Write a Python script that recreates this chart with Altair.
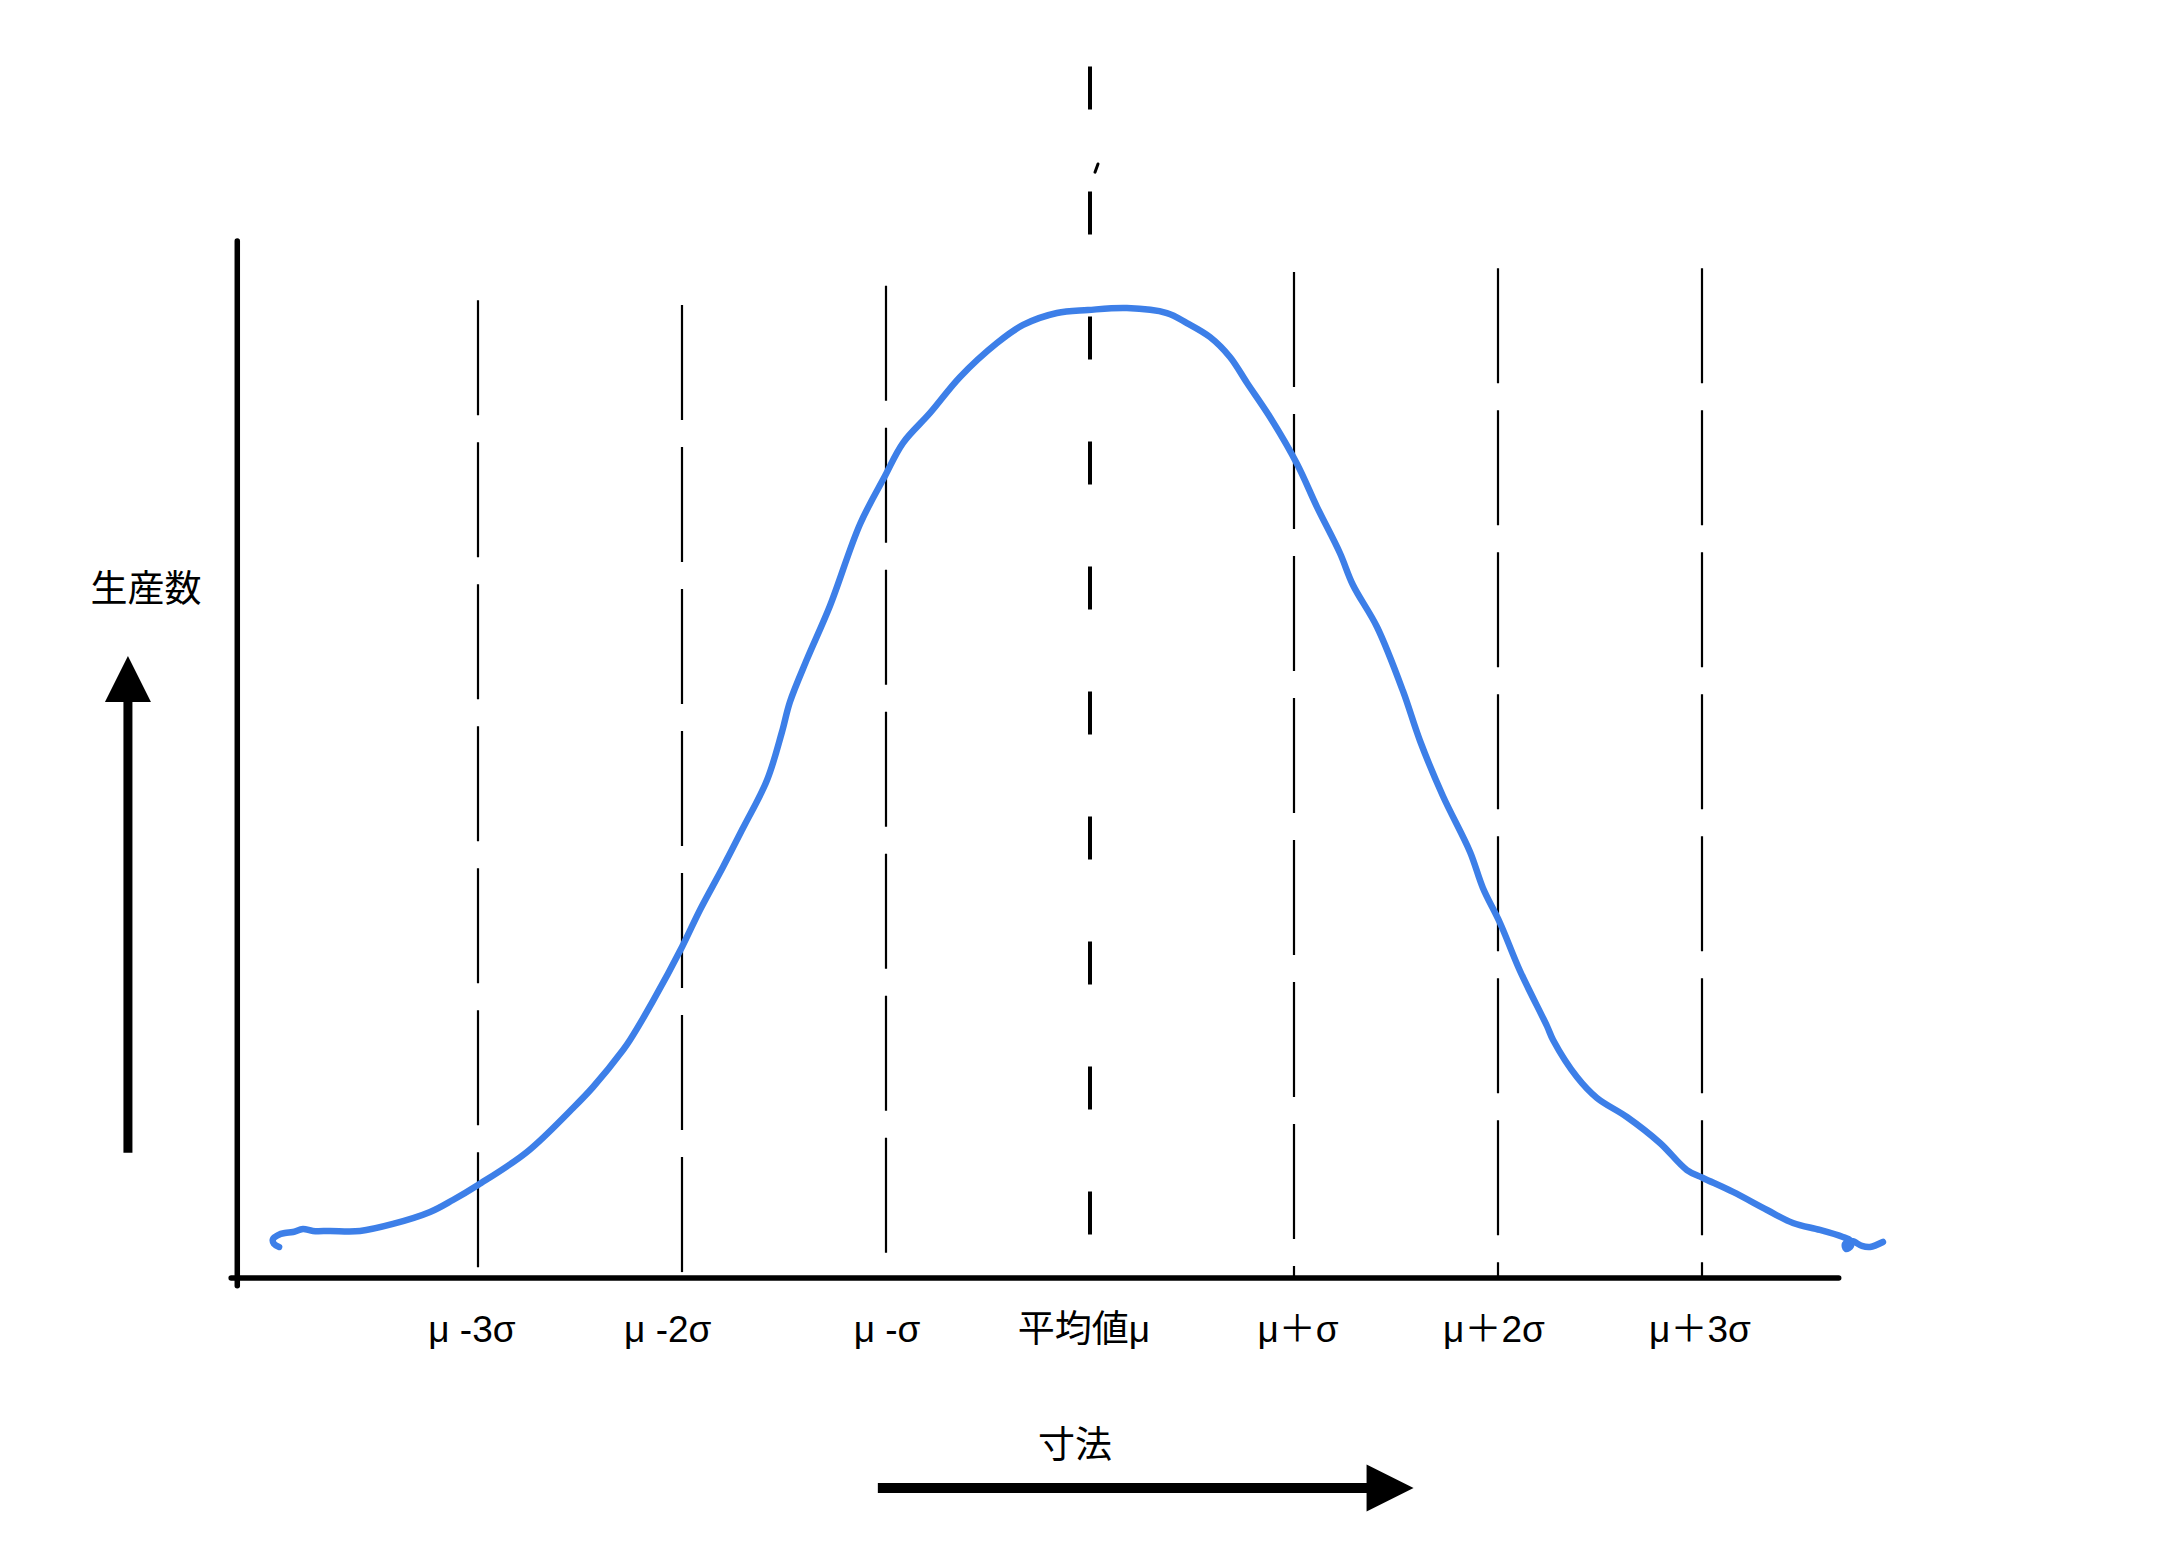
import altair as alt
import pandas as pd

# ---------------- data (x in units of σ from the mean, y in production-count units, peak = 100)
sigma_labels = ["μ -3σ", "μ -2σ", "μ -σ", "平均値μ", "μ＋σ", "μ＋2σ", "μ＋3σ"]
label_pos = [-3.03, -2.07, -0.995, -0.03, 1.02, 1.98, 2.99]
label_level = -5.5

side_pos = [-3, -2, -1, 1, 2, 3]
side_top = [100.8, 100.3, 102.3, 103.7, 104.1, 104.1]
mean_top, mean_bottom = 124.9, -2.7

curve_x = [-3.975, -4.000, -4.005, -3.980, -3.946, -3.907, -3.858, -3.809, -3.725, -3.578,
           -3.417, -3.235, -3.123, -3.000, -2.760, -2.534, -2.436, -2.289, -2.255, -2.142,
           -2.000, -1.912, -1.799, -1.701, -1.583, -1.510, -1.471, -1.387, -1.275, -1.127,
           -1.005, -0.917, -0.784, -0.637, -0.456, -0.328, -0.162, -0.010, 0.181, 0.377,
           0.475, 0.588, 0.686, 0.770, 0.882, 1.015, 1.113, 1.225, 1.289, 1.407,
           1.534, 1.618, 1.730, 1.863, 1.926, 2.010, 2.108, 2.240, 2.270, 2.387,
           2.485, 2.632, 2.794, 2.926, 3.005, 3.152, 3.319, 3.446, 3.578, 3.691,
           3.725, 3.730, 3.706, 3.701, 3.735, 3.784, 3.824, 3.887]
curve_y = [3.20, 3.51, 4.02, 4.43, 4.64, 4.74, 5.05, 4.85, 4.85, 4.85,
           5.57, 6.80, 8.04, 9.59, 12.99, 17.53, 19.69, 23.51, 24.54, 28.56,
           34.12, 37.94, 42.37, 46.39, 51.34, 56.29, 59.38, 63.81, 69.28, 77.73,
           82.68, 86.08, 89.18, 92.89, 96.39, 98.25, 99.48, 99.79, 100.00, 99.48,
           98.45, 97.01, 94.95, 92.27, 88.76, 83.92, 79.48, 74.74, 71.44, 67.11,
           60.52, 55.36, 49.69, 43.92, 40.21, 36.60, 31.65, 25.98, 24.54, 20.72,
           18.56, 16.60, 13.92, 11.13, 10.31, 8.87, 7.01, 5.67, 4.95, 4.23,
           3.92, 3.30, 2.99, 3.51, 3.81, 3.30, 3.20, 3.71]

x_axis_span = [-4.21, 3.67]
y_axis_pos, y_axis_span = -4.18, [-0.8, 106.9]

y_title, y_title_pos = "生産数", (-4.627, 70.8)
x_title, x_title_pos = "寸法", (-0.074, -17.4)

up_arrow_x, up_arrow_span, up_head_y = -4.716, [12.9, 60.6], 61.75
right_arrow_y, right_arrow_span, right_head_x = -21.65, [-1.04, 1.37], 1.471

stray_tick = ([0.0245, 0.0392], [114.0, 114.85])

# ---------------- layout
W, H = 2130, 1540
PX_PER_SIGMA, PX_PER_UNIT = 204.0, 9.7
CX, BASE_Y = 1082.0, 1270.0
xs = alt.Scale(domain=[-CX / PX_PER_SIGMA, (W - CX) / PX_PER_SIGMA], nice=False, zero=False)
ys = alt.Scale(domain=[(BASE_Y - H) / PX_PER_UNIT, BASE_Y / PX_PER_UNIT], nice=False, zero=False)
FONT = "Liberation Sans, Noto Sans CJK JP"
BLUE = "#3d7fe8"

def X(f):
    return alt.X(f, type="quantitative", scale=xs, axis=None)

def Y(f):
    return alt.Y(f, type="quantitative", scale=ys, axis=None)

side_df = pd.DataFrame({"s": side_pos, "top": side_top, "bottom": [0] * len(side_pos)})
side_lines = alt.Chart(side_df).mark_rule(color="black", strokeWidth=2.2, strokeDash=[115, 27]).encode(
    x=X("s"), y=Y("top"), y2="bottom")

mean_df = pd.DataFrame({"s": [0], "top": [mean_top], "bottom": [mean_bottom]})
mean_line = alt.Chart(mean_df).mark_rule(color="black", strokeWidth=4, strokeDash=[43, 82]).encode(
    x=X("s"), y=Y("top"), y2="bottom")

tick_df = pd.DataFrame({"s": [stray_tick[0][0]], "s2": [stray_tick[0][1]],
                        "v": [stray_tick[1][0]], "v2": [stray_tick[1][1]]})
tick = alt.Chart(tick_df).mark_rule(color="black", strokeWidth=3, strokeCap="round").encode(
    x=X("s"), x2="s2", y=Y("v"), y2="v2")

xaxis_df = pd.DataFrame({"s": [x_axis_span[0]], "s2": [x_axis_span[1]], "v": [0]})
xaxis = alt.Chart(xaxis_df).mark_rule(color="black", strokeWidth=5.5, strokeCap="round").encode(
    x=X("s"), x2="s2", y=Y("v"))
yaxis_df = pd.DataFrame({"s": [y_axis_pos], "v": [y_axis_span[0]], "v2": [y_axis_span[1]]})
yaxis = alt.Chart(yaxis_df).mark_rule(color="black", strokeWidth=5.5, strokeCap="round").encode(
    x=X("s"), y=Y("v"), y2="v2")

curve_df = pd.DataFrame({"s": curve_x, "v": curve_y, "i": list(range(len(curve_x)))})
curve = alt.Chart(curve_df).mark_line(color=BLUE, strokeWidth=6.5, strokeCap="round",
                                      strokeJoin="round", interpolate="catmull-rom").encode(
    x=X("s"), y=Y("v"), order=alt.Order("i:Q"))

lab_df = pd.DataFrame({"s": label_pos, "label": sigma_labels, "v": [label_level] * len(label_pos)})
labels = alt.Chart(lab_df).mark_text(font=FONT, fontSize=37, color="black", align="center",
                                     baseline="middle").encode(x=X("s"), y=Y("v"), text="label:N")

titles_df = pd.DataFrame({"s": [y_title_pos[0], x_title_pos[0]], "v": [y_title_pos[1], x_title_pos[1]],
                          "t": [y_title, x_title]})
titles = alt.Chart(titles_df).mark_text(font="Noto Sans CJK JP", fontSize=37, color="black",
                                        align="center", baseline="middle").encode(
    x=X("s"), y=Y("v"), text="t:N")

up_df = pd.DataFrame({"s": [up_arrow_x], "v": [up_arrow_span[0]], "v2": [up_arrow_span[1]]})
up_shaft = alt.Chart(up_df).mark_rule(color="black", strokeWidth=9).encode(x=X("s"), y=Y("v"), y2="v2")
up_head_df = pd.DataFrame({"s": [up_arrow_x], "v": [up_head_y]})
up_head = alt.Chart(up_head_df).mark_point(shape="M-1,1L0,-1L1,1Z", size=2116, filled=True,
                                           color="black", opacity=1, strokeWidth=0).encode(
    x=X("s"), y=Y("v"))

rt_df = pd.DataFrame({"s": [right_arrow_span[0]], "s2": [right_arrow_span[1]], "v": [right_arrow_y]})
rt_shaft = alt.Chart(rt_df).mark_rule(color="black", strokeWidth=10).encode(x=X("s"), x2="s2", y=Y("v"))
rt_head_df = pd.DataFrame({"s": [right_head_x], "v": [right_arrow_y]})
rt_head = alt.Chart(rt_head_df).mark_point(shape="M-1,-1L1,0L-1,1Z", size=2209, filled=True,
                                           color="black", opacity=1, strokeWidth=0).encode(
    x=X("s"), y=Y("v"))

chart = alt.layer(side_lines, mean_line, tick, curve, xaxis, yaxis, labels, titles,
                  up_shaft, up_head, rt_shaft, rt_head).properties(
    width=W, height=H, autosize=alt.AutoSizeParams(type="none"), padding=0,
    background="white").configure_view(stroke=None)

chart.save("out.html", embed_options={"renderer": "svg", "actions": False})
